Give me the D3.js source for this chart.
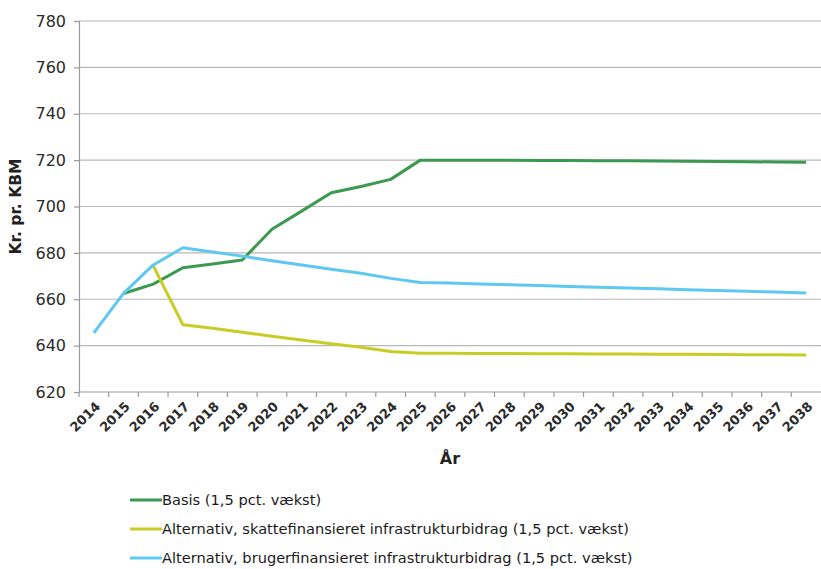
<!DOCTYPE html>
<html>
<head>
<meta charset="utf-8">
<script src="https://cdn.jsdelivr.net/npm/d3@7"></script>
<style>
  html, body { margin: 0; padding: 0; background: #fff; }
  svg { display: block; font-family: "DejaVu Sans", Verdana, sans-serif; }
</style>
</head>
<body>
<svg id="chart" width="821" height="569"></svg>
<script>
// Years on the category axis
const years = d3.range(2014, 2039).map(String);

// Kr. pr. KBM per year (null = no value that year)
const basis = [null, 662.5, 666.5, 673.6, 675.2, 676.9, 690.2, 698.0, 705.9, 708.6, 711.7,
  720.0, 720.0, 719.9, 719.9, 719.8, 719.8, 719.7, 719.7, 719.6, 719.5, 719.4, 719.3, 719.2, 719.1];
const skattefinansieret = [null, null, 674.5, 649.0, 647.5, 645.8, 644.0, 642.4, 640.8, 639.3, 637.5,
  636.7, 636.7, 636.6, 636.6, 636.5, 636.5, 636.4, 636.4, 636.3, 636.3, 636.2, 636.1, 636.1, 636.0];
const brugerfinansieret = [645.5, 662.5, 674.8, 682.2, 680.4, 678.6, 676.6, 674.8, 672.9, 671.2, 669.0,
  667.2, 667.0, 666.6, 666.2, 665.9, 665.5, 665.2, 664.8, 664.5, 664.1, 663.8, 663.4, 663.1, 662.7];

const seriesNames = [
  "Basis (1,5 pct. vækst)",
  "Alternativ, skattefinansieret infrastrukturbidrag (1,5 pct. vækst)",
  "Alternativ, brugerfinansieret infrastrukturbidrag (1,5 pct. vækst)"
];
const seriesColors = ["#3b9a50", "#c9cc24", "#5ec8f2"];
const yTicks = [620, 640, 660, 680, 700, 720, 740, 760, 780];

const series = [basis, skattefinansieret, brugerfinansieret].map((vals, i) => ({
  name: seriesNames[i], color: seriesColors[i], values: vals
}));

const svg = d3.select("#chart");
const plotLeft = 79, plotRight = 821, plotTop = 21, plotBottom = 392;

const x = d3.scaleBand().domain(years).range([plotLeft, plotRight]).padding(0);
const y = d3.scaleLinear().domain([620, 780]).range([plotBottom, plotTop]);
const cx = d => x(d) + x.bandwidth() / 2;

// Horizontal gridlines
svg.append("g").selectAll("line").data(yTicks.slice(1)).join("line")
  .attr("x1", plotLeft).attr("x2", plotRight)
  .attr("y1", d => y(d)).attr("y2", d => y(d))
  .attr("stroke", "#b8b8b8").attr("stroke-width", 1.2);

// Y axis
const yAxis = svg.append("g").attr("transform", `translate(${plotLeft},0)`)
  .call(d3.axisLeft(y).tickValues(yTicks).tickSize(5).tickPadding(8).tickFormat(d3.format("d")));
yAxis.select(".domain").attr("stroke", "#9a9a9a").attr("stroke-width", 1.2);
yAxis.selectAll(".tick line").attr("stroke", "#9a9a9a").attr("stroke-width", 1.2);
yAxis.selectAll("text").attr("font-size", 16).attr("fill", "#2a2a2a").attr("font-family", "DejaVu Sans");

// X axis: baseline, tick marks between categories, rotated year labels
const xg = svg.append("g");
xg.append("line").attr("x1", plotLeft).attr("x2", plotRight).attr("y1", plotBottom).attr("y2", plotBottom)
  .attr("stroke", "#9a9a9a").attr("stroke-width", 1.2);
xg.selectAll("line.tk").data(years).join("line").attr("class", "tk")
  .attr("x1", d => x(d)).attr("x2", d => x(d))
  .attr("y1", plotBottom).attr("y2", plotBottom + 5)
  .attr("stroke", "#9a9a9a").attr("stroke-width", 1.2);
xg.selectAll("text").data(years).join("text")
  .attr("transform", d => `translate(${cx(d) + 4},${plotBottom + 12}) rotate(-45)`)
  .attr("text-anchor", "end").attr("dy", "0.35em")
  .attr("font-size", 13).attr("font-weight", "bold").attr("fill", "#2a2a2a")
  .text(d => d);

// Axis titles
svg.append("text").attr("x", (plotLeft + plotRight) / 2).attr("y", 464)
  .attr("text-anchor", "middle").attr("font-size", 16).attr("font-weight", "bold").attr("fill", "#222")
  .text("År");
svg.append("text").attr("transform", `translate(21,${(plotTop + plotBottom) / 2}) rotate(-90)`)
  .attr("text-anchor", "middle").attr("font-size", 15.5).attr("font-weight", "bold").attr("fill", "#222")
  .text("Kr. pr. KBM");

// Series lines
const line = d3.line()
  .defined(d => d.v != null)
  .x(d => cx(d.year)).y(d => y(d.v));
svg.append("g").selectAll("path").data(series).join("path")
  .attr("d", s => line(s.values.map((v, i) => ({ year: years[i], v }))))
  .attr("fill", "none").attr("stroke", s => s.color)
  .attr("stroke-width", 3).attr("stroke-linejoin", "round");

// Legend
const legend = svg.append("g").selectAll("g").data(series).join("g")
  .attr("transform", (s, i) => `translate(130,${500 + i * 29})`);
legend.append("line").attr("x1", 0).attr("x2", 32).attr("y1", 0).attr("y2", 0)
  .attr("stroke", s => s.color).attr("stroke-width", 3);
legend.append("text").attr("x", 32).attr("y", 0).attr("dy", "0.35em")
  .attr("font-size", 14.6).attr("fill", "#1a1a1a").text(s => s.name);
</script>
</body>
</html>
